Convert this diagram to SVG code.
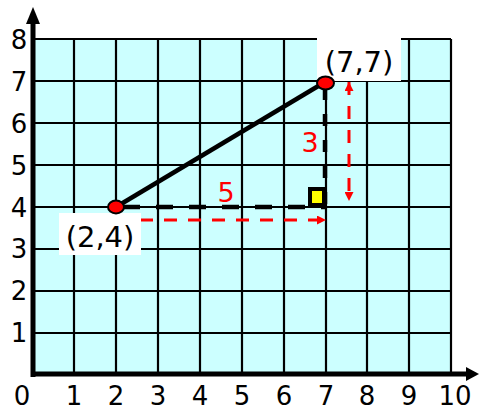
<svg xmlns="http://www.w3.org/2000/svg" width="479" height="412" viewBox="0 0 479 412">
<style>
.grid{stroke:#000;stroke-width:2.2;fill:none}
.axis{stroke:#000;stroke-width:5;fill:none}
.lbl{font-family:"DejaVu Sans","Liberation Sans",sans-serif;font-size:26px;fill:#000;text-anchor:middle}
.pt{font-family:"DejaVu Sans","Liberation Sans",sans-serif;font-size:29px;fill:#000;text-anchor:middle}
.red{font-family:"DejaVu Sans","Liberation Sans",sans-serif;font-size:27px;fill:#ff0000;text-anchor:middle}
.dash{stroke:#000;stroke-width:4.5;fill:none}
.rarrow{stroke:#ff0000;stroke-width:3;fill:none;stroke-dasharray:13 11;marker-start:url(#ah);marker-end:url(#ah)}
.dot{fill:#ff0000;stroke:#000;stroke-width:2}
</style>
<defs>
<marker id="ah" viewBox="0 0 10 10" refX="10" refY="5" markerWidth="10" markerHeight="9" markerUnits="userSpaceOnUse" orient="auto-start-reverse">
<path d="M0,0 L10,5 L0,10 Z" fill="#ff0000"/>
</marker>
</defs>
<g id="grid">
<rect x="32" y="39" width="419" height="336" fill="#ccffff"/>
<path class="grid" d="M74,39V375M116,39V375M158,39V375M200,39V375M242,39V375M284,39V375M326,39V375M367,39V375M409,39V375M451,39V375M32,39H451M32,81H451M32,123H451M32,165H451M32,207H451M32,249H451M32,291H451M32,333H451"/>
</g>
<g id="axes">
<path class="axis" d="M33,377V22M31,374H467"/>
<polygon points="33,7 26,24 40,24" fill="#000"/>
<polygon points="479,374 466,367 466,381" fill="#000"/>
</g>
<g id="x-labels">
<text class="lbl" x="22" y="405">0</text>
<text class="lbl" x="74" y="405">1</text>
<text class="lbl" x="116" y="405">2</text>
<text class="lbl" x="158" y="405">3</text>
<text class="lbl" x="200" y="405">4</text>
<text class="lbl" x="242" y="405">5</text>
<text class="lbl" x="284" y="405">6</text>
<text class="lbl" x="326" y="405">7</text>
<text class="lbl" x="367" y="405">8</text>
<text class="lbl" x="409" y="405">9</text>
<text class="lbl" x="455" y="405">10</text>
</g>
<g id="y-labels">
<text class="lbl" x="19" y="342">1</text>
<text class="lbl" x="19" y="300">2</text>
<text class="lbl" x="19" y="258">3</text>
<text class="lbl" x="19" y="217">4</text>
<text class="lbl" x="19" y="175">5</text>
<text class="lbl" x="19" y="133">6</text>
<text class="lbl" x="19" y="91">7</text>
<text class="lbl" x="19" y="49">8</text>
</g>
<g id="connectors">
<line x1="116" y1="207" x2="325" y2="82" stroke="#000" stroke-width="4.5"/>
<line class="dash" x1="123" y1="207" x2="325" y2="207" stroke-dasharray="17 16"/>
<line class="dash" x1="325" y1="88" x2="325" y2="207" stroke-dasharray="12 14"/>
<rect x="310" y="189" width="14" height="16" fill="#ffff00" stroke="#000" stroke-width="4"/>
<line class="rarrow" x1="116" y1="220" x2="326" y2="220"/>
<line class="rarrow" x1="349" y1="82" x2="349" y2="201"/>
</g>
<g id="label-7-7">
<rect x="317" y="37" width="84" height="44" fill="#fff"/>
<text class="pt" x="359" y="72">(7,7)</text>
</g>
<g id="label-2-4">
<rect x="59" y="213" width="82" height="42" fill="#fff"/>
<text class="pt" x="100" y="247">(2,4)</text>
</g>
<g id="point-2-4"><ellipse class="dot" cx="116" cy="207" rx="8" ry="6.5"/></g>
<g id="point-7-7"><ellipse class="dot" cx="325.5" cy="83" rx="8.5" ry="6.5"/></g>
<g id="len-3"><text class="red" x="310" y="152">3</text></g>
<g id="len-5"><text class="red" x="226" y="202">5</text></g>
</svg>
